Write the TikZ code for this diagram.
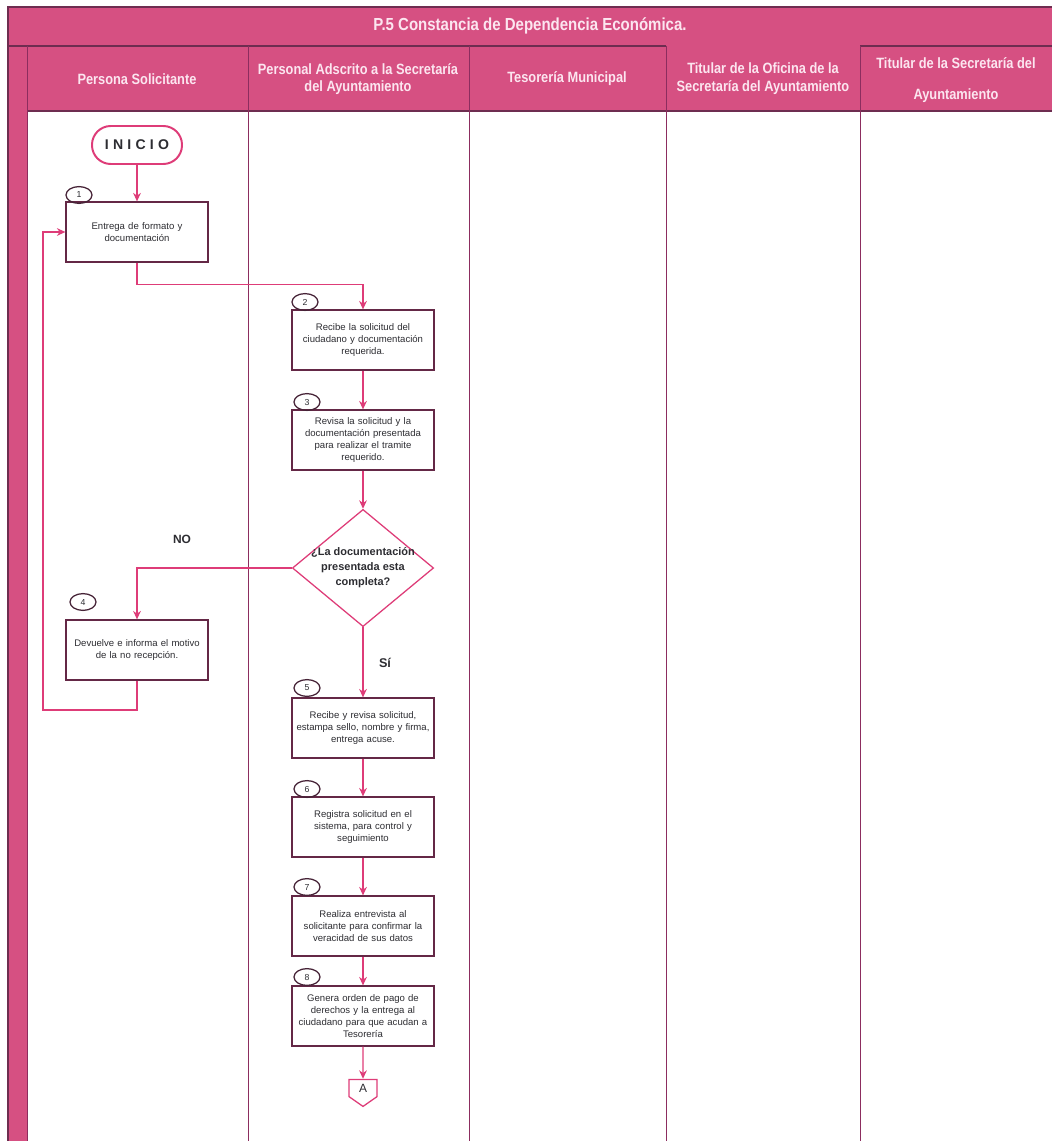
\documentclass[tikz,border=0pt]{standalone}
\usepackage{fontspec}
\setmainfont{Liberation Sans}
\newfontfamily\hdfont[FakeStretch=0.86]{Liberation Sans}
\newfontfamily\inifont[LetterSpace=30]{Liberation Sans}
\usetikzlibrary{arrows.meta,shapes.geometric,shapes.symbols}
\definecolor{cHead}{RGB}{214,80,130}
\definecolor{cHeadTxt}{RGB}{252,230,240}
\definecolor{cRule}{RGB}{110,45,80}
\definecolor{cLane}{RGB}{140,45,95}
\definecolor{cBox}{RGB}{100,40,70}
\definecolor{cArr}{RGB}{222,60,120}
\definecolor{cNum}{RGB}{70,35,55}
\definecolor{cTxt}{RGB}{45,45,50}

\begin{document}
\begin{tikzpicture}[
  x=0.025cm, y=-0.025cm, font=\fontsize{6.8}{8.6}\selectfont, color=cTxt,
  hline/.style={draw=cRule, line width=0.8pt},
  lane/.style ={draw=cLane, line width=0.7pt},
  hdr/.style  ={text=cHeadTxt, align=center, inner sep=0pt,
                font=\hdfont\bfseries\fontsize{10.6}{12.6}\selectfont},
  box/.style  ={draw=cBox, line width=0.9pt, fill=white, align=center,
                minimum width=3.55cm, minimum height=1.5cm, text width=3.4cm,
                inner sep=1pt, text=cTxt},
  num/.style  ={ellipse, draw=cNum, line width=0.9pt, minimum width=0.65cm,
                minimum height=0.42cm, inner sep=0pt,
                font=\fontsize{6.2}{6.2}\selectfont},
  ini/.style  ={draw=cArr, line width=1.4pt, rounded corners=0.47cm,
                minimum width=2.25cm, minimum height=0.95cm,
                font=\inifont\bfseries\fontsize{10}{12}\selectfont},
  dec/.style  ={diamond, draw=cArr, line width=0.9pt, fill=white,
                minimum width=3.53cm, minimum height=2.93cm, inner sep=0pt},
  dtxt/.style ={align=center, inner sep=0pt,
                font=\bfseries\fontsize{7.8}{10.6}\selectfont},
  offp/.style ={signal, signal to=south, signal pointer angle=110,
                draw=cArr, line width=0.9pt, fill=white, minimum width=0.7cm,
                minimum height=0.5cm, inner sep=0pt,
                font=\fontsize{8.5}{9}\selectfont},
  arr/.style  ={-{Stealth[length=6pt,width=5.5pt]}, line width=0.9pt, draw=cArr},
]
\useasboundingbox (0,0) rectangle (1052,1141);

% ----- frame: title band, header row, left strip -------------------------
\fill[cHead] (8,7) rectangle (1052,111);
\fill[cHead] (8,111) rectangle (27,1141);
\draw[hline] (8,1141) -- (8,7) -- (1052,7);
\draw[hline] (8,46) -- (666,46);
\draw[hline] (860,46) -- (1052,46);
\draw[hline] (27,111) -- (1052,111);
\foreach \x in {27,248,469,666,860} \draw[lane] (\x,46) -- (\x,1141);

\node[hdr, font=\hdfont\bfseries\fontsize{12.4}{14}\selectfont] (title) at (530,26)
     {P.5 Constancia de Dependencia Económica.};
% columns: 137 / 358 / 567 / 763 / 956
\node[hdr] (hsol) at (137,79) {Persona Solicitante};
\node[hdr] (hads) at (358,79) {Personal Adscrito a la Secretaría\\del Ayuntamiento};
\node[hdr] (htes) at (567,79) {Tesorería Municipal};
\node[hdr] (hofi) at (763,79) {Titular de la Oficina de la\\Secretaría del Ayuntamiento};
\node[hdr] (hsec) at (956,80) {Titular de la Secretaría del\\[9pt]Ayuntamiento};

% ----- steps ---------------------------------------------------------------
% rows: 145 / 232 / 340 / 440 / 568 / 650 / 728 / 827 / 926 / 1016
\node[ini] (ini) at (137,145) {INICIO};
\node[box] (b1) at (137,232) {Entrega de formato y\\documentación};
\node[box] (b2) at (363,340) {Recibe la solicitud del\\ciudadano y documentación\\requerida.};
\node[box] (b3) at (363,440) {Revisa la solicitud y la\\documentación presentada\\para realizar el tramite\\requerido.};
\node[dec, label={[dtxt]center:{¿La documentación\\presentada esta\\completa?}}] (dec) at (363,568) {};
\node[box] (b4) at (137,650) {Devuelve e informa el motivo\\de la no recepción.};
\node[box] (b5) at (363,728) {Recibe y revisa solicitud,\\estampa sello, nombre y firma,\\entrega acuse.};
\node[box] (b6) at (363,827) {Registra solicitud en el\\sistema, para control y\\seguimiento};
\node[box] (b7) at (363,926) {Realiza entrevista al\\solicitante para confirmar la\\veracidad de sus datos};
\node[box] (b8) at (363,1016) {Genera orden de pago de\\derechos y la entrega al\\ciudadano para que acudan a\\Tesorería};
\node[offp] (conA) at (363,1088) {A};

\node[num] (n1) at (79,195)  {1};
\node[num] (n2) at (305,302) {2};
\node[num] (n3) at (307,402) {3};
\node[num] (n4) at (83,602)  {4};
\node[num] (n5) at (307,688) {5};
\node[num] (n6) at (307,789) {6};
\node[num] (n7) at (307,887) {7};
\node[num] (n8) at (307,977) {8};

\node[font=\bfseries\fontsize{8.5}{10}\selectfont] (lno) at (182,539) {NO};
\node[font=\bfseries\fontsize{9}{10}\selectfont]   (lsi) at (385,663) {Sí};
\coordinate (back) at (43,710);

% ----- forward path --------------------------------------------------------
\draw[arr] (ini) -- (b1);
\draw[arr] (b1.south) -- ++(0,22) -| (b2.north);
\draw[arr] (b2) -- (b3);
\draw[arr] (b3) -- (dec);
\draw[arr] (dec) -- (b5);
\draw[arr] (b5) -- (b6);
\draw[arr] (b6) -- (b7);
\draw[arr] (b7) -- (b8);
\draw[arr] (b8) -- (conA);

% ----- rejected documents go back to the applicant -----------------------
\draw[arr] (dec.west) -| (b4.north);
\draw[arr] (b4.south) |- (back) |- (b1.west);

\end{tikzpicture}
\end{document}
